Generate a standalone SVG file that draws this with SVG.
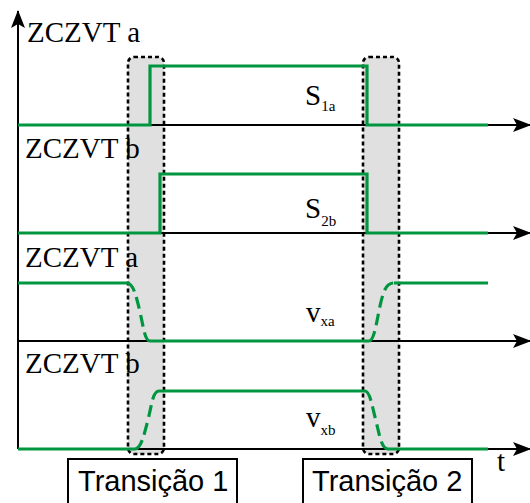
<svg xmlns="http://www.w3.org/2000/svg" width="530" height="503" viewBox="0 0 530 503">
<style>
.axis{stroke:#000;stroke-width:2;fill:none}
.sig{stroke:#009640;stroke-width:3.2;fill:none}
.sigd{stroke:#009640;stroke-width:3.2;fill:none;stroke-dasharray:12 6}
.win{fill:#e0e0e0;stroke:#000;stroke-width:2.6;stroke-dasharray:4 3}
.lbl{font-family:'Liberation Serif','Times New Roman',serif;font-size:29px;fill:#000}
.sub{font-size:15px}
.box{fill:#fff;stroke:#000;stroke-width:2}
.btxt{font-family:'Liberation Sans',Arial,sans-serif;font-size:29px;fill:#000}
</style>
<defs>
<marker id="ah" markerWidth="18" markerHeight="14" refX="17" refY="7" orient="auto" markerUnits="userSpaceOnUse">
<path d="M0,0 L18,7 L0,14 L4,7 Z" fill="#000"/>
</marker>
</defs>
<g id="transition-windows">
<rect id="win1" class="win" x="128" y="57" width="36" height="397" rx="6"/>
<rect id="win2" class="win" x="363" y="57" width="36" height="397" rx="6"/>
</g>
<g id="connectors">
<line class="axis" x1="18" y1="449" x2="18" y2="11" marker-end="url(#ah)"/>
<line class="axis" x1="18" y1="125" x2="530" y2="125" marker-end="url(#ah)"/>
<line class="axis" x1="18" y1="233" x2="530" y2="233" marker-end="url(#ah)"/>
<line class="axis" x1="18" y1="341" x2="530" y2="341" marker-end="url(#ah)"/>
<line class="axis" x1="18" y1="449" x2="530" y2="449" marker-end="url(#ah)"/>
</g>
<g id="s1a">
<path class="sig" d="M18,125 H150 V66 H367 V125 H488"/>
<text class="lbl" x="305" y="105">S<tspan class="sub" dy="6">1a</tspan></text>
</g>
<g id="s2b">
<path class="sig" d="M18,233 H160 V174 H367 V233 H488"/>
<text class="lbl" x="305" y="218">S<tspan class="sub" dy="8">2b</tspan></text>
</g>
<g id="vxa">
<path class="sig" d="M18,283 H127"/>
<path class="sigd" d="M127,283 C133,283 136,295 140,312 C144,330 145,341 150,341"/>
<path class="sig" d="M150,341 H369"/>
<path class="sigd" d="M369,341 C374,341 376,325 380,306 C384,288 387,283 394,283"/>
<path class="sig" d="M394,283 H488"/>
<text class="lbl" x="306" y="322">v<tspan class="sub" dy="4">xa</tspan></text>
</g>
<g id="vxb">
<path class="sig" d="M18,449 H135"/>
<path class="sigd" d="M135,449 C141,449 144,435 148,420 C152,403 153,391 159,391"/>
<path class="sig" d="M159,391 H365"/>
<path class="sigd" d="M365,391 C370,391 372,406 376,421 C380,438 382,449 388,449"/>
<path class="sig" d="M388,449 H488"/>
<text class="lbl" x="306" y="427">v<tspan class="sub" dy="8">xb</tspan></text>
</g>
<g id="labels">
<text class="lbl" x="27" y="42">ZCZVT a</text>
<text class="lbl" x="25" y="158">ZCZVT b</text>
<text class="lbl" x="25" y="267">ZCZVT a</text>
<text class="lbl" x="25" y="373">ZCZVT b</text>
<text class="lbl" x="497" y="471">t</text>
</g>
<g id="transicao1">
<rect class="box" x="68" y="459" width="169" height="50"/>
<text class="btxt" x="78" y="491">Transição 1</text>
</g>
<g id="transicao2">
<rect class="box" x="303" y="459" width="169" height="50"/>
<text class="btxt" x="312" y="491">Transição 2</text>
</g>
</svg>
